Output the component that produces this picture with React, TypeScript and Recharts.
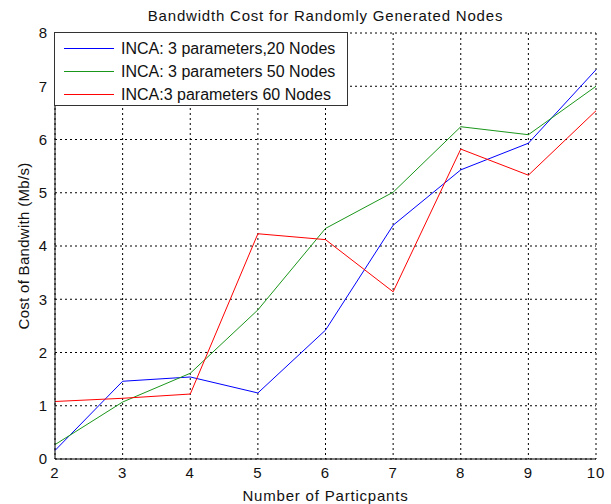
import React from 'react';
import { LineChart, Line, XAxis, YAxis, CartesianGrid } from 'recharts';

const participants = [2, 3, 4, 5, 6, 7, 8, 9, 10];
const nodes20 = [0.16, 1.46, 1.54, 1.24, 2.42, 4.39, 5.43, 5.93, 7.31];
const nodes50 = [0.27, 1.07, 1.61, 2.8, 4.33, 5.01, 6.24, 6.09, 7.0];
const nodes60 = [1.08, 1.14, 1.22, 4.23, 4.12, 3.14, 5.82, 5.33, 6.54];
const yTicks = [0, 1, 2, 3, 4, 5, 6, 7, 8];

const seriesNames = [
  'INCA: 3 parameters,20 Nodes',
  'INCA: 3 parameters 50 Nodes',
  'INCA:3 parameters 60 Nodes',
];
const seriesColors = ['#0000ff', '#1a961a', '#ff0000'];

const data = participants.map((p, i) => ({
  p,
  s20: nodes20[i],
  s50: nodes50[i],
  s60: nodes60[i],
}));

const font = '"Liberation Sans", Arial, sans-serif';

const LegendBox = () => (
  <div
    style={{
      position: 'absolute',
      left: 54,
      top: 32,
      background: '#fff',
      border: '1px solid #333',
      width: 292,
      height: 68,
      boxSizing: 'content-box',
      fontFamily: font,
      fontSize: 16,
      color: '#111',
      paddingTop: 4,
    }}
  >
    {seriesNames.map((name, i) => (
      <div key={name} style={{ display: 'flex', alignItems: 'center', height: 23 }}>
        <div style={{ width: 50, height: 1, background: seriesColors[i], marginLeft: 9, marginRight: 7 }} />
        <span>{name}</span>
      </div>
    ))}
  </div>
);

export default function App() {
  return (
    <div style={{ position: 'absolute', left: 0, top: 0, width: 611, height: 504, background: '#fff' }}>
      <LineChart width={611} height={504} data={data} margin={{ top: 33, right: 15, left: 0, bottom: 0 }}>
        <CartesianGrid stroke="#000" strokeDasharray="2 3" />
        <XAxis
          dataKey="p"
          type="number"
          domain={[2, 10]}
          ticks={participants}
          height={45}
          axisLine={{ stroke: '#000' }}
          tickLine={false}
          tick={{ fill: '#111', fontSize: 15, fontFamily: font, letterSpacing: 1 }}
          label={{ value: 'Number of Particpants', position: 'insideBottom', offset: 3, fill: '#111', fontSize: 15, fontFamily: font, letterSpacing: 0.8 }}
        />
        <XAxis xAxisId="top" dataKey="p" type="number" domain={[2, 10]} orientation="top" height={0} tick={false} tickLine={false} axisLine={{ stroke: '#000' }} />
        <YAxis
          type="number"
          domain={[0, 8]}
          ticks={yTicks}
          width={55}
          axisLine={{ stroke: '#000' }}
          tickLine={false}
          tick={{ fill: '#111', fontSize: 15, fontFamily: font }}
          label={{ value: 'Cost of Bandwith (Mb/s)', angle: -90, position: 'center', dx: -4, fill: '#111', fontSize: 15, fontFamily: font, letterSpacing: 0.3 }}
        />
        <YAxis yAxisId="right" orientation="right" domain={[0, 8]} width={0} tick={false} tickLine={false} axisLine={{ stroke: '#000' }} />
        <Line dataKey="s20" name={seriesNames[0]} stroke={seriesColors[0]} strokeWidth={1} dot={false} isAnimationActive={false} />
        <Line dataKey="s50" name={seriesNames[1]} stroke={seriesColors[1]} strokeWidth={1} dot={false} isAnimationActive={false} />
        <Line dataKey="s60" name={seriesNames[2]} stroke={seriesColors[2]} strokeWidth={1} dot={false} isAnimationActive={false} />
      </LineChart>
      <div
        style={{
          position: 'absolute',
          top: 7,
          left: 55,
          width: 541,
          textAlign: 'center',
          fontFamily: font,
          fontSize: 15,
          letterSpacing: 0.8,
          color: '#111',
        }}
      >
        Bandwidth Cost for Randomly Generated Nodes
      </div>
      <LegendBox />
    </div>
  );
}
